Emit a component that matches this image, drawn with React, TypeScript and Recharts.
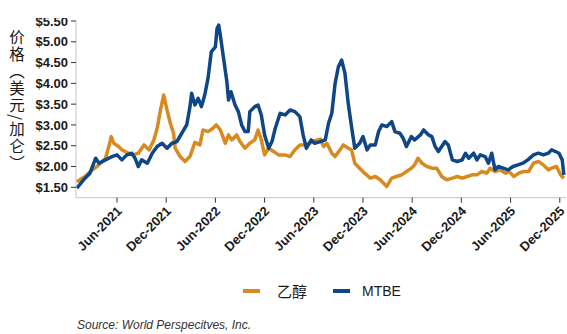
import React from "react";
import { LineChart, Line, XAxis, YAxis } from "recharts";

// time in months since Jan-2021
const ethanolT = [0.1,1.1,2.0,2.8,3.6,4.0,4.3,4.6,5.2,5.6,6.4,7.0,7.6,8.3,8.9,9.5,9.9,10.3,10.7,11.1,11.5,11.9,12.1,12.7,13.3,13.9,14.5,15.1,15.5,16.1,16.7,17.1,17.6,18.2,18.6,19.0,19.6,20.0,20.6,21.2,21.8,22.2,22.6,23.0,23.5,24.1,24.7,25.5,26.1,26.7,27.3,27.9,28.5,29.1,29.8,30.2,30.6,31.2,31.6,32.2,32.6,33.2,33.6,34.0,34.6,35.2,35.9,36.5,37.1,37.7,37.9,38.5,39.1,39.7,40.3,40.9,41.3,41.7,42.2,42.8,43.4,44.0,44.6,45.2,45.9,46.5,47.1,47.7,48.3,48.9,49.5,50.1,50.5,51.1,51.7,52.4,52.8,53.4,54.0,54.6,55.2,55.8,56.4,57.0,57.6,58.0,58.6,59.1,59.5];
const ethanolV = [1.63,1.76,1.92,2.04,2.2,2.48,2.72,2.56,2.48,2.4,2.32,2.28,2.32,2.52,2.4,2.64,2.92,3.36,3.72,3.36,3.04,2.8,2.44,2.24,2.12,2.24,2.58,2.52,2.88,2.84,2.92,3.0,2.88,2.56,2.76,2.64,2.76,2.6,2.44,2.56,2.64,2.88,2.64,2.28,2.44,2.36,2.28,2.28,2.24,2.4,2.52,2.52,2.56,2.62,2.66,2.48,2.56,2.32,2.24,2.4,2.52,2.44,2.4,2.08,1.96,1.84,1.72,1.76,1.68,1.56,1.52,1.72,1.76,1.8,1.88,1.96,2.04,2.2,2.08,2.0,1.96,1.96,1.76,1.68,1.72,1.76,1.72,1.76,1.8,1.8,1.88,1.84,1.96,1.88,1.92,1.84,1.88,1.76,1.84,1.88,1.88,2.08,2.12,2.04,1.92,1.96,2.0,1.8,1.72];

const mtbeT = [0.1,1.1,1.7,2.4,2.8,3.6,4.4,5.0,5.6,6.2,6.8,7.2,7.6,8.0,8.7,9.3,9.9,10.5,11.1,11.7,12.3,12.9,13.5,13.9,14.1,14.5,14.9,15.3,15.7,16.1,16.5,17.0,17.2,17.4,17.6,18.0,18.4,18.6,18.9,19.4,19.8,20.2,20.6,21.0,21.2,21.8,22.2,22.6,23.0,23.5,23.9,24.3,24.9,25.5,26.1,26.7,27.3,27.7,28.1,28.7,29.1,29.8,30.4,30.8,31.2,31.6,32.0,32.4,32.8,33.2,33.6,34.0,34.6,35.0,35.5,35.9,36.5,36.9,37.3,37.9,38.5,38.9,39.5,39.9,40.3,40.9,41.3,42.0,42.4,43.0,43.4,43.8,44.2,44.6,45.0,45.4,45.9,46.5,47.1,47.5,47.9,48.5,48.9,49.3,49.9,50.3,50.7,51.1,51.5,52.1,52.7,53.3,53.9,54.5,55.1,55.8,56.4,57.0,57.6,58.0,58.5,58.9,59.3,59.5];
const mtbeV = [1.48,1.72,1.84,2.2,2.08,2.16,2.24,2.28,2.16,2.28,2.32,2.2,2.0,2.16,2.08,2.32,2.48,2.56,2.44,2.56,2.6,2.8,3.0,3.44,3.76,3.48,3.64,3.44,3.72,4.12,4.76,4.88,5.32,5.4,5.16,4.6,4.04,3.6,3.8,3.48,3.32,3.0,2.84,2.84,3.32,3.44,3.48,3.24,2.76,2.44,2.6,2.92,3.28,3.24,3.36,3.32,3.2,2.76,2.44,2.64,2.56,2.6,2.64,3.04,3.28,4.0,4.4,4.56,4.24,3.52,2.96,2.44,2.56,2.72,2.4,2.52,2.52,2.84,3.0,2.96,3.08,2.84,2.8,2.68,2.48,2.72,2.64,2.76,2.88,2.76,2.72,2.48,2.36,2.48,2.6,2.52,2.16,2.12,2.16,2.32,2.2,2.32,2.16,2.28,2.24,2.08,2.32,1.92,2.0,1.96,1.92,2.0,2.04,2.08,2.16,2.28,2.32,2.28,2.32,2.4,2.36,2.32,2.16,1.8];

const xTicks = [5, 11, 17, 23, 29, 35, 41, 47, 53, 59];
const xTickLabels = ["Jun-2021","Dec-2021","Jun-2022","Dec-2022","Jun-2023","Dec-2023","Jun-2024","Dec-2024","Jun-2025","Dec-2025"];
const yTicks = [1.5, 2.0, 2.5, 3.0, 3.5, 4.0, 4.5, 5.0, 5.5];

const seriesNames = ["乙醇", "MTBE"];
const yAxisTitle = "价格（美元/加仑）";
const colors = ["#D98A1E", "#0E4686"];

const ethanolData = ethanolT.map((t, i) => ({ t, v: ethanolV[i] }));
const mtbeData = mtbeT.map((t, i) => ({ t, v: mtbeV[i] }));

const FONT = "'Liberation Sans', Arial, sans-serif";

const XTick = (props: any) => {
  const { x, y, payload } = props;
  const idx = xTicks.indexOf(payload.value);
  return (
    <g transform={`translate(${x},${y})`}>
      <text x={0} y={0} dx={-1} dy={9} textAnchor="end" transform="rotate(-45)" fontFamily={FONT} fontSize={13} fontWeight="bold" fill="#1a1a1a">
        {xTickLabels[idx]}
      </text>
    </g>
  );
};

const YLabel = () => (
  <text x={17} y={29} fontFamily="'Noto Sans CJK SC', sans-serif" fontSize={15.5} letterSpacing={1.5} fill="#1a1a1a" style={{ writingMode: "vertical-rl" as any }}>
    {yAxisTitle}
  </text>
);

export default function App() {
  return (
    <div style={{ position: "absolute", left: 0, top: 0, width: 567, height: 334, background: "#fff" }}>
      <LineChart width={567} height={334} margin={{ top: 21, right: 1, bottom: 0, left: 0 }}>
        <XAxis
          type="number"
          dataKey="t"
          domain={[0, 59.76]}
          ticks={xTicks}
          interval={0}
          height={136.3}
          tick={<XTick />}
          tickSize={5}
          stroke="#c4c4c4"
          tickLine={{ stroke: "#333" }}
          allowDataOverflow
        />
        <YAxis
          type="number"
          domain={[1.25, 5.5]}
          ticks={yTicks}
          interval={0}
          width={76}
          tickSize={5}
          tickMargin={3}
          stroke="#c4c4c4"
          tickLine={{ stroke: "#333" }}
          tick={{ fontFamily: FONT, fontSize: 13, fontWeight: "bold", fill: "#1a1a1a" }}
          tickFormatter={(v: number) => `$${v.toFixed(2)}`}
          label={{ content: <YLabel /> } as any}
          allowDataOverflow
        />
        <Line data={ethanolData} dataKey="v" name={seriesNames[0]} type="linear" stroke={colors[0]} strokeWidth={3.5} dot={false} isAnimationActive={false} strokeLinejoin="round" />
        <Line data={mtbeData} dataKey="v" name={seriesNames[1]} type="linear" stroke={colors[1]} strokeWidth={3.5} dot={false} isAnimationActive={false} strokeLinejoin="round" />
      </LineChart>
      <div style={{ position: "absolute", left: 0, top: 0, width: 76, height: 18, background: "#fff" }} />
      <div style={{ position: "absolute", left: 243, top: 289, width: 17, height: 4, background: colors[0] }} />
      <div style={{ position: "absolute", left: 277, top: 282, fontFamily: "'Noto Sans CJK SC', sans-serif", fontSize: 15, lineHeight: "18px", color: "#1a1a1a" }}>{seriesNames[0]}</div>
      <div style={{ position: "absolute", left: 333, top: 289, width: 17, height: 4, background: colors[1] }} />
      <div style={{ position: "absolute", left: 362, top: 283, fontFamily: FONT, fontSize: 14, lineHeight: "16px", color: "#1a1a1a" }}>{seriesNames[1]}</div>
      <div style={{ position: "absolute", left: 77, top: 318, fontFamily: FONT, fontSize: 12, fontStyle: "italic", color: "#333", lineHeight: "14px" }}>
        Source: World Perspecitves, Inc.
      </div>
    </div>
  );
}
